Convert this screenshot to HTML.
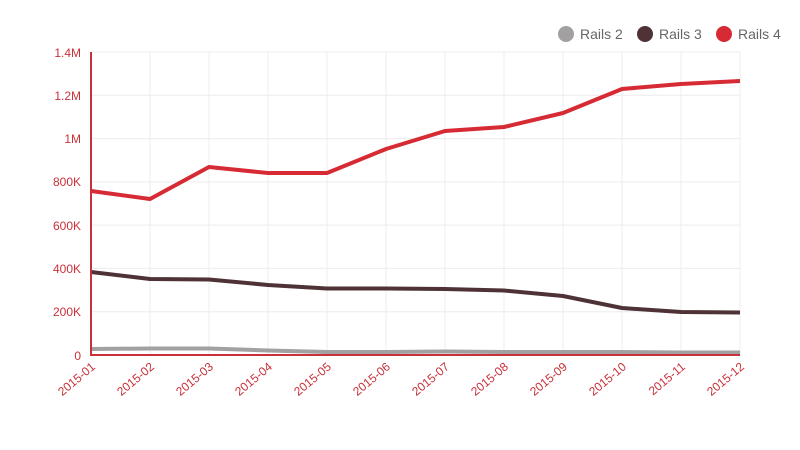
<!DOCTYPE html>
<html><head><style>body{margin:0;background:#fff}svg{display:block;font-family:"Liberation Sans",sans-serif}</style></head>
<body>
<svg width="800" height="450" xmlns="http://www.w3.org/2000/svg">
<g stroke="#ececec" stroke-width="1">
<line x1="91" y1="52" x2="740" y2="52"/><line x1="91" y1="95.3" x2="740" y2="95.3"/><line x1="91" y1="138.6" x2="740" y2="138.6"/><line x1="91" y1="181.9" x2="740" y2="181.9"/><line x1="91" y1="225.1" x2="740" y2="225.1"/><line x1="91" y1="268.4" x2="740" y2="268.4"/><line x1="91" y1="311.7" x2="740" y2="311.7"/>
<line x1="150" y1="52" x2="150" y2="355"/><line x1="209" y1="52" x2="209" y2="355"/><line x1="268" y1="52" x2="268" y2="355"/><line x1="327" y1="52" x2="327" y2="355"/><line x1="386" y1="52" x2="386" y2="355"/><line x1="445" y1="52" x2="445" y2="355"/><line x1="504" y1="52" x2="504" y2="355"/><line x1="563" y1="52" x2="563" y2="355"/><line x1="622" y1="52" x2="622" y2="355"/><line x1="681" y1="52" x2="681" y2="355"/><line x1="740" y1="52" x2="740" y2="355"/>
</g>
<g fill="#c8313a" font-size="12" text-anchor="end">
<text x="81" y="57">1.4M</text><text x="81" y="100">1.2M</text><text x="81" y="143">1M</text><text x="81" y="186">800K</text><text x="81" y="230">600K</text><text x="81" y="273">400K</text><text x="81" y="316">200K</text><text x="81" y="360">0</text>
</g>
<g fill="#c8313a" font-size="12" text-anchor="end">
<text transform="translate(96,368) rotate(-40)">2015-01</text>
<text transform="translate(155,368) rotate(-40)">2015-02</text>
<text transform="translate(214,368) rotate(-40)">2015-03</text>
<text transform="translate(273,368) rotate(-40)">2015-04</text>
<text transform="translate(332,368) rotate(-40)">2015-05</text>
<text transform="translate(391,368) rotate(-40)">2015-06</text>
<text transform="translate(450,368) rotate(-40)">2015-07</text>
<text transform="translate(509,368) rotate(-40)">2015-08</text>
<text transform="translate(568,368) rotate(-40)">2015-09</text>
<text transform="translate(627,368) rotate(-40)">2015-10</text>
<text transform="translate(686,368) rotate(-40)">2015-11</text>
<text transform="translate(745,368) rotate(-40)">2015-12</text>
</g>
<g fill="none" stroke-width="4" stroke-linejoin="round">
<polyline stroke="#a3a0a1" points="91,349 150,348.5 209,348.5 268,350.5 327,352 386,352 445,351.5 504,352 563,352 622,352 681,352.5 740,352.5"/>
<polyline stroke="#4e3236" points="91,272 150,279 209,279.5 268,285 327,288.5 386,288.5 445,289 504,290.5 563,296 622,308 681,312 740,312.5"/>
<polyline stroke="#d62b35" points="91,191 150,199 209,167 268,173 327,173 386,149 445,131 504,127 563,113 622,89 681,84 740,81"/>
</g>
<line x1="91" y1="52" x2="91" y2="356" stroke="#c8313a" stroke-width="2"/>
<line x1="90" y1="355" x2="740" y2="355" stroke="#c8313a" stroke-width="2"/>
<g font-size="14" fill="#666">
<circle cx="566" cy="34" r="8" fill="#a3a0a1"/><text x="580" y="39">Rails 2</text>
<circle cx="645" cy="34" r="8" fill="#4e3236"/><text x="659" y="39">Rails 3</text>
<circle cx="724" cy="34" r="8" fill="#d62b35"/><text x="738" y="39">Rails 4</text>
</g>
</svg>
</body></html>
